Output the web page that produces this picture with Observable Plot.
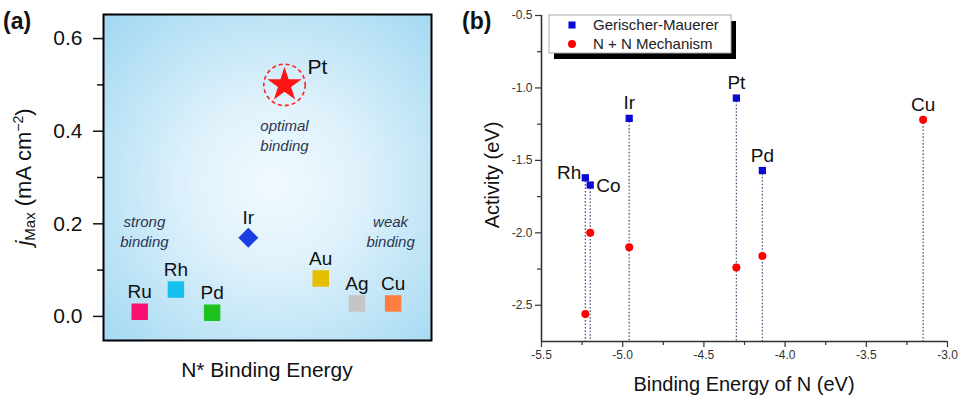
<!DOCTYPE html>
<html><head><meta charset="utf-8">
<script src="https://cdn.jsdelivr.net/npm/d3@7"></script>
<script src="https://cdn.jsdelivr.net/npm/@observablehq/plot@0.6"></script>
<style>
body{margin:0;background:#fff;}
#wrap{position:relative;width:963px;height:401px;}
#wrap svg{position:absolute;top:0;max-width:none;}
</style></head><body><div id="wrap"></div>
<script>
const FONT = '"Liberation Sans", Arial, sans-serif';

// ---------- Panel (a) data ----------
const metalsA = ["Ru", "Rh", "Pd", "Ir", "Pt", "Au", "Ag", "Cu"];
const bindingRankA = [1, 2, 3, 4, 5, 6, 7, 8];
const jMax = [0.010, 0.058, 0.008, 0.170, 0.500, 0.082, 0.028, 0.028];
const colorsA = ["#fa0f73", "#14c1ec", "#1ec21e", "#1a3fe0", "#ff1414", "#e3bf00", "#c4c4c4", "#ff7f40"];
const symbolsA = ["square", "square", "square", "diamond2", "star", "square", "square", "square"];
const yTicksA = [0, 0.2, 0.4, 0.6];
const yMinorA = [0.1, 0.3, 0.5];
const notesText = ["strong\nbinding", "optimal\nbinding", "weak\nbinding"];
const notesX = [1.13, 5, 7.93];
const notesY = [0.186, 0.393, 0.186];
const xDomainA = [0, 9.06];
const yDomainA = [-0.052, 0.652];

// ---------- Panel (b) data ----------
const metalsB = ["Rh", "Co", "Ir", "Pt", "Pd", "Cu"];
const bindingN = [-5.23, -5.20, -4.96, -4.30, -4.14, -3.15];
const gerischerMauerer = [-1.62, -1.67, -1.21, -1.07, -1.57, null];
const nPlusN = [-2.56, -2.00, -2.10, -2.24, -2.16, -1.22];
const xTicksB = [-5.5, -5, -4.5, -4, -3.5, -3];
const xMinorB = [-5.25, -4.75, -4.25, -3.75, -3.25];
const yTicksB = [-0.5, -1, -1.5, -2, -2.5];
const yMinorB = [-0.75, -1.25, -1.75, -2.25];
const legendB = ["Gerischer-Mauerer", "N + N Mechanism"];
const xDomainB = [-5.5, -3];
const yDomainB = [-2.75, -0.5];

const dataA = metalsA.map((m, i) => ({metal: m, x: bindingRankA[i], y: jMax[i], color: colorsA[i], symbol: symbolsA[i]}));
const notes = notesText.map((t, i) => ({text: t, x: notesX[i], y: notesY[i]}));
const dataB = metalsB.map((m, i) => ({metal: m, x: bindingN[i], gm: gerischerMauerer[i], nn: nPlusN[i],
  top: d3.max([gerischerMauerer[i], nPlusN[i]])}));

const defsA = () => {
  const defs = d3.create("svg:defs");
  const g = defs.append("radialGradient").attr("id", "bgA").attr("cx", "52%").attr("cy", "52%").attr("r", "72%");
  g.append("stop").attr("offset", "0%").attr("stop-color", "#f1fafe");
  g.append("stop").attr("offset", "35%").attr("stop-color", "#e0f2fb");
  g.append("stop").attr("offset", "100%").attr("stop-color", "#a2d8f2");
  return defs.node();
};

const labelsA = (index, scales, values, dim) => {
  const g = d3.create("svg:g").attr("font-family", FONT).attr("fill", "#111");
  const cy = (dim.marginTop + dim.height - dim.marginBottom) / 2;
  const t = g.append("text").attr("transform", `translate(31,${cy}) rotate(-90)`)
    .attr("text-anchor", "middle").attr("font-size", 22);
  t.append("tspan").attr("font-style", "italic").text("j");
  t.append("tspan").attr("font-size", 15).attr("baseline-shift", "-25%").text("Max");
  t.append("tspan").text(" (mA cm");
  t.append("tspan").attr("font-size", 14).attr("baseline-shift", "super").text("\u22122");
  t.append("tspan").text(")");
  const cx = (dim.marginLeft + dim.width - dim.marginRight) / 2;
  g.append("text").attr("x", cx).attr("y", 377).attr("text-anchor", "middle").attr("font-size", 21).text("N* Binding Energy");
  g.append("text").attr("x", 3).attr("y", 29).attr("text-anchor", "start").attr("font-size", 23).attr("font-weight", "bold").text("(a)");
  return g.node();
};

const plotA = Plot.plot({
  width: 480, height: 401,
  marginLeft: 103, marginRight: 49, marginTop: 14, marginBottom: 61,
  style: {fontFamily: FONT, background: "transparent", overflow: "visible"},
  x: {domain: xDomainA, axis: null},
  y: {domain: yDomainA},
  color: {type: "identity"},
  marks: [
    defsA,
    Plot.frame({fill: "url(#bgA)"}),
    Plot.axisY(yTicksA, {tickSize: 10, tickPadding: 11, fontSize: 21, tickFormat: d => d.toFixed(1), label: null, strokeWidth: 1.5, color: "#111"}),
    Plot.axisY(yMinorA, {tickSize: 6, text: null, label: null, strokeWidth: 1.5, color: "#111"}),
    Plot.dot(dataA.filter(d => d.symbol === "star"), {x: "x", y: "y", r: 20.7, stroke: "#ff2020", strokeDasharray: "4,3", strokeWidth: 1.6, fill: "none"}),
    Plot.dot(dataA.filter(d => d.symbol === "square"), {x: "x", y: "y", symbol: "square", r: 9.3, fill: "color"}),
    Plot.dot(dataA.filter(d => d.symbol === "diamond2"), {x: "x", y: "y", symbol: "diamond2", r: 9, fill: "color"}),
    Plot.dot(dataA.filter(d => d.symbol === "star"), {x: "x", y: "y", symbol: "star", r: 10.8, fill: "color"}),
    Plot.text(dataA.filter(d => d.symbol !== "star"), {x: "x", y: "y", text: "metal", dy: -20, fontSize: 19, fill: "#111"}),
    Plot.text(dataA.filter(d => d.symbol === "star"), {x: "x", y: "y", text: "metal", dx: 23, dy: -18, textAnchor: "start", fontSize: 21, fill: "#111"}),
    Plot.text(notes, {x: "x", y: "y", text: "text", fontStyle: "italic", fontSize: 15, fill: "#2b3650", lineHeight: 1.33}),
    Plot.frame({stroke: "#000", strokeWidth: 2}),
    labelsA
  ]
});
plotA.style.left = "0px";

const extrasB = (index, scales, values, dim) => {
  const g = d3.create("svg:g").attr("font-family", FONT).attr("fill", "#111");
  const cy = (dim.marginTop + dim.height - dim.marginBottom) / 2;
  g.append("text").attr("transform", `translate(49,${cy - 3}) rotate(-90)`).attr("text-anchor", "middle")
    .attr("font-size", 20).text("Activity (eV)");
  const cx = (dim.marginLeft + dim.width - dim.marginRight) / 2;
  g.append("text").attr("x", cx).attr("y", 391).attr("text-anchor", "middle").attr("font-size", 20).text("Binding Energy of N (eV)");
  g.append("text").attr("x", 12).attr("y", 29).attr("text-anchor", "start").attr("font-size", 23).attr("font-weight", "bold").text("(b)");
  // legend
  const lx = dim.marginLeft + 8, ly = dim.marginTop, lw = 182, lh = 38;
  const lg = g.append("g").attr("text-anchor", "start");
  lg.append("rect").attr("x", lx + 5).attr("y", ly + 6).attr("width", lw).attr("height", lh).attr("fill", "#000");
  lg.append("rect").attr("x", lx).attr("y", ly).attr("width", lw).attr("height", lh).attr("fill", "#fff").attr("stroke", "#aaa").attr("stroke-width", 1);
  const syms = [d3.symbolSquare, d3.symbolCircle];
  const cols = ["#0a0ad2", "#ff0000"];
  legendB.forEach((name, i) => {
    const yy = ly + 10 + i * 19;
    lg.append("path").attr("transform", `translate(${lx + 23},${yy})`).attr("d", d3.symbol(syms[i], 50)()).attr("fill", cols[i]);
    lg.append("text").attr("x", lx + 44).attr("y", yy).attr("dy", "0.36em").attr("font-size", 15).attr("fill", "#222").text(name);
  });
  return g.node();
};

const plotB = Plot.plot({
  width: 513, height: 401,
  marginLeft: 91, marginRight: 16, marginTop: 15, marginBottom: 60,
  style: {fontFamily: FONT, background: "transparent", overflow: "visible"},
  x: {domain: xDomainB},
  y: {domain: yDomainB},
  marks: [
    Plot.ruleX(dataB, {x: "x", y1: "top", y2: yDomainB[0], stroke: "#5a5f80", strokeDasharray: "1.6,1.8", strokeWidth: 1.3}),
    Plot.axisY(yTicksB, {tickSize: 6, tickPadding: 3, fontSize: 12, tickFormat: d => d.toFixed(1), label: null, color: "#333", strokeWidth: 1.2}),
    Plot.axisY(yMinorB, {tickSize: 4, text: null, label: null, color: "#333", strokeWidth: 1.2}),
    Plot.axisX(xTicksB, {tickSize: 6, tickPadding: 3, fontSize: 12, tickFormat: d => d.toFixed(1), label: null, color: "#333", strokeWidth: 1.2}),
    Plot.axisX(xMinorB, {tickSize: 4, text: null, label: null, color: "#333", strokeWidth: 1.2}),
    Plot.ruleX([xDomainB[0]], {stroke: "#333", strokeWidth: 1.6}),
    Plot.ruleY([yDomainB[0]], {stroke: "#333", strokeWidth: 1.6}),
    Plot.dot(dataB.filter(d => d.gm != null), {x: "x", y: "gm", symbol: "square", r: 4.1, fill: "#0a0ad2"}),
    Plot.dot(dataB, {x: "x", y: "nn", r: 4, fill: "#ff0000"}),
    Plot.text(dataB.filter(d => d.metal === "Rh"), {x: "x", y: "top", text: "metal", textAnchor: "end", dx: -4, dy: -5, fontSize: 19, fill: "#111"}),
    Plot.text(dataB.filter(d => d.metal === "Co"), {x: "x", y: "top", text: "metal", textAnchor: "start", dx: 6, dy: 1, fontSize: 19, fill: "#111"}),
    Plot.text(dataB.filter(d => d.metal !== "Rh" && d.metal !== "Co"), {x: "x", y: "top", text: "metal", dy: -15, fontSize: 19, fill: "#111"}),
    extrasB
  ]
});
plotB.style.left = "450px";

document.getElementById("wrap").append(plotA, plotB);
</script></body></html>
